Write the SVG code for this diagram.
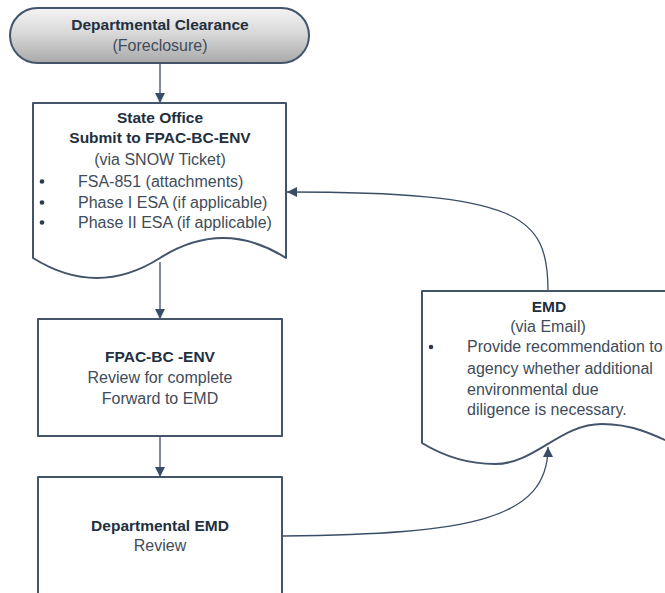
<svg xmlns="http://www.w3.org/2000/svg" width="665" height="593" viewBox="0 0 665 593">
<defs>
<linearGradient id="termGrad" x1="0" y1="0" x2="0" y2="1">
<stop offset="0" stop-color="#f4f4f4"/>
<stop offset="0.45" stop-color="#d9d9d9"/>
<stop offset="1" stop-color="#a9a9a9"/>
</linearGradient>
<marker id="arrow" viewBox="0 0 10 10" refX="10" refY="5" markerWidth="10" markerHeight="10" markerUnits="userSpaceOnUse" orient="auto">
<path d="M0,0 L10,5 L0,10 Z" fill="#3a4d66"/>
</marker>
<style>
.shape{fill:#ffffff;stroke:#44546a;stroke-width:2;stroke-linejoin:round}
.conn{fill:none;stroke:#3a4d66;stroke-width:1.3}
.t{font-family:"Liberation Sans",Arial,sans-serif;font-size:16px;fill:#414c5a}
.b{font-family:"Liberation Sans",Arial,sans-serif;font-size:15.5px;font-weight:bold;fill:#232f3e}
.c{text-anchor:middle}
.bu{fill:#2b3a4e}
</style>
</defs>
<g id="connectors">
<path class="conn" d="M160,63 V103" marker-end="url(#arrow)"/>
<path class="conn" d="M160,262 V319" marker-end="url(#arrow)"/>
<path class="conn" d="M160,436 V477" marker-end="url(#arrow)"/>
<path class="conn" d="M548,291 C548,215 520,192 287,192" marker-end="url(#arrow)"/>
<path class="conn" d="M283,536 C470,534 548,520 548,447" marker-end="url(#arrow)"/>
</g>
<g id="departmental-clearance">
<rect x="10" y="8" width="299" height="55" rx="27.5" ry="27.5" fill="url(#termGrad)" stroke="#44546a" stroke-width="2"/>
<text class="b c" x="160" y="30">Departmental Clearance</text>
<text class="t c" x="160" y="51">(Foreclosure)</text>
</g>
<g id="state-office">
<path class="shape" d="M33,103 H286 V258 Q223,218 160,258 T33,258 Z"/>
<text class="b c" x="160" y="123">State Office</text>
<text class="b c" x="160" y="143">Submit to FPAC-BC-ENV</text>
<text class="t c" x="160" y="165">(via SNOW Ticket)</text>
<circle class="bu" cx="42" cy="181.5" r="2.3"/>
<text class="t" x="78" y="187">FSA-851 (attachments)</text>
<circle class="bu" cx="42" cy="202.5" r="2.3"/>
<text class="t" x="78" y="208">Phase I ESA (if applicable)</text>
<circle class="bu" cx="42" cy="222.5" r="2.3"/>
<text class="t" x="78" y="228">Phase II ESA (if applicable)</text>
</g>
<g id="fpac-bc-env">
<rect class="shape" x="38" y="319" width="244" height="117"/>
<text class="b c" x="160" y="362">FPAC-BC -ENV</text>
<text class="t c" x="160" y="383">Review for complete</text>
<text class="t c" x="160" y="404">Forward to EMD</text>
</g>
<g id="departmental-emd">
<rect class="shape" x="38" y="477" width="244" height="130"/>
<text class="b c" x="160" y="531">Departmental EMD</text>
<text class="t c" x="160" y="551">Review</text>
</g>
<g id="emd">
<path class="shape" d="M690,291 H422 V443 C445,457 470,464 495,464 C535,464 560,424 602,424 C630,424 650,432 690,452 Z"/>
<text class="b c" x="549" y="312">EMD</text>
<text class="t c" x="548" y="332">(via Email)</text>
<circle class="bu" cx="431" cy="347" r="2.3"/>
<text class="t" x="467" y="352">Provide recommendation to</text>
<text class="t" x="467" y="374">agency whether additional</text>
<text class="t" x="467" y="395">environmental due</text>
<text class="t" x="467" y="415">diligence is necessary.</text>
</g>
</svg>
